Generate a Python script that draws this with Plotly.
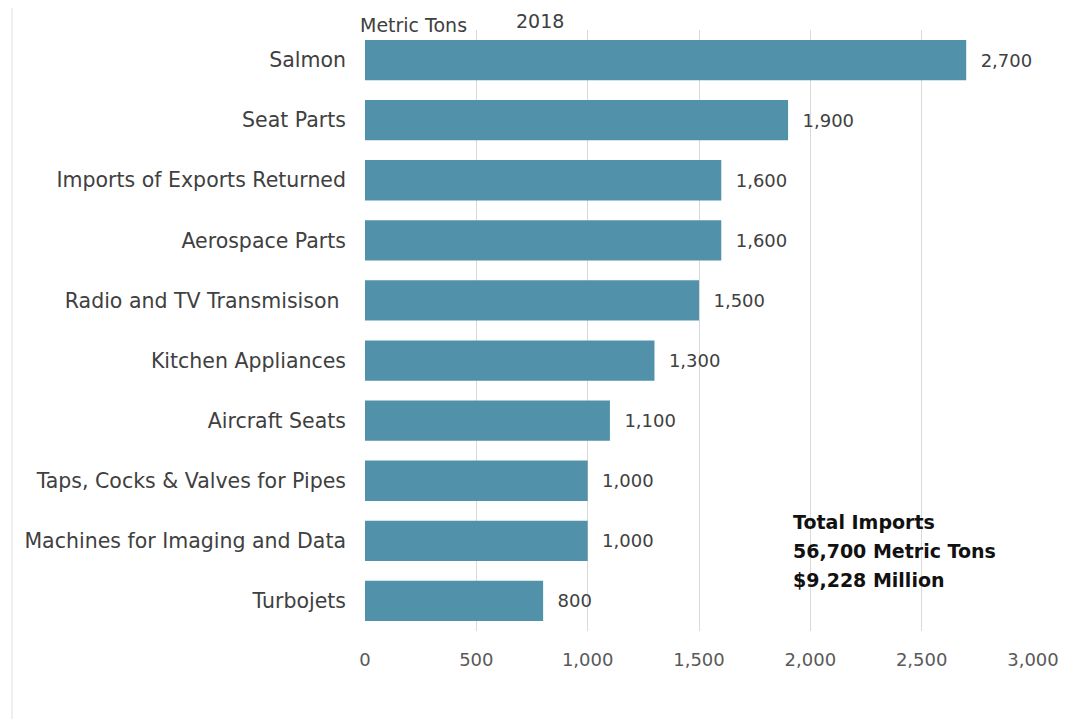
import plotly.graph_objects as go

categories = ["Salmon", "Seat Parts", "Imports of Exports Returned", "Aerospace Parts",
              "Radio and TV Transmisison ", "Kitchen Appliances", "Aircraft Seats",
              "Taps, Cocks & Valves for Pipes", "Machines for Imaging and Data", "Turbojets"]
values = [2700, 1900, 1600, 1600, 1500, 1300, 1100, 1000, 1000, 800]
tick_vals = [0, 500, 1000, 1500, 2000, 2500, 3000]
tick_text = ["0", "500", "1,000", "1,500", "2,000", "2,500", "3,000"]
total_lines = ["Total Imports", "56,700 Metric Tons", "$9,228 Million"]

# page has an 8px body margin; figure is sized/positioned to compensate
W, H = 1059, 711
ml, mr, mt, mb = 357, 34, 22, 88
pw = W - ml - mr
ph = H - mt - mb

def px_x(x):  # figure pixel -> paper x
    return (x - ml) / pw

def px_y(y):  # figure pixel (from top) -> paper y
    return 1 - (y - mt) / ph

fig = go.Figure(go.Bar(
    y=categories, x=values, orientation="h",
    marker=dict(color="#5291AA", line=dict(width=0)),
    texttemplate="  %{x:,}", textposition="outside", cliponaxis=False,
    textfont=dict(family="DejaVu Sans", size=18, color="#404040"),
))

annotations = [
    dict(text="Metric Tons", xref="paper", yref="paper", x=px_x(350), y=px_y(30),
         xanchor="left", yanchor="bottom", showarrow=False,
         font=dict(size=19, color="#404040")),
    dict(text="2018", xref="paper", yref="paper", x=px_x(532), y=px_y(0),
         xanchor="center", yanchor="top", showarrow=False,
         font=dict(size=19, color="#404040")),
]
for i, line in enumerate(total_lines):
    annotations.append(dict(text=f"<b>{line}</b>", xref="paper", yref="paper",
                            x=px_x(783), y=px_y(514 + 29 * i), xanchor="left", yanchor="middle",
                            showarrow=False, font=dict(size=19, color="#111111")))

fig.update_layout(
    width=W, height=H,
    margin=dict(l=ml, r=mr, t=mt, b=mb, autoexpand=False),
    paper_bgcolor="white", plot_bgcolor="white",
    bargap=0.33,
    showlegend=False,
    font=dict(family="DejaVu Sans", color="#404040"),
    xaxis=dict(range=[0, 3000], tickvals=tick_vals, ticktext=tick_text,
               showgrid=True, gridcolor="#D9D9D9", gridwidth=1,
               zeroline=False, showline=False, ticks="",
               tickfont=dict(size=18, color="#595959"), ticklabelstandoff=16),
    yaxis=dict(autorange="reversed", categoryorder="array", categoryarray=categories,
               showgrid=False, zeroline=False, showline=False, ticks="",
               tickfont=dict(size=20.5, color="#404040"), ticklabelstandoff=18),
    annotations=annotations,
    shapes=[dict(type="line", xref="paper", yref="paper",
                 x0=px_x(4), x1=px_x(4), y0=px_y(H), y1=px_y(0),
                 line=dict(color="#E0E0E0", width=1))],
)

fig.write_html("out.html")
